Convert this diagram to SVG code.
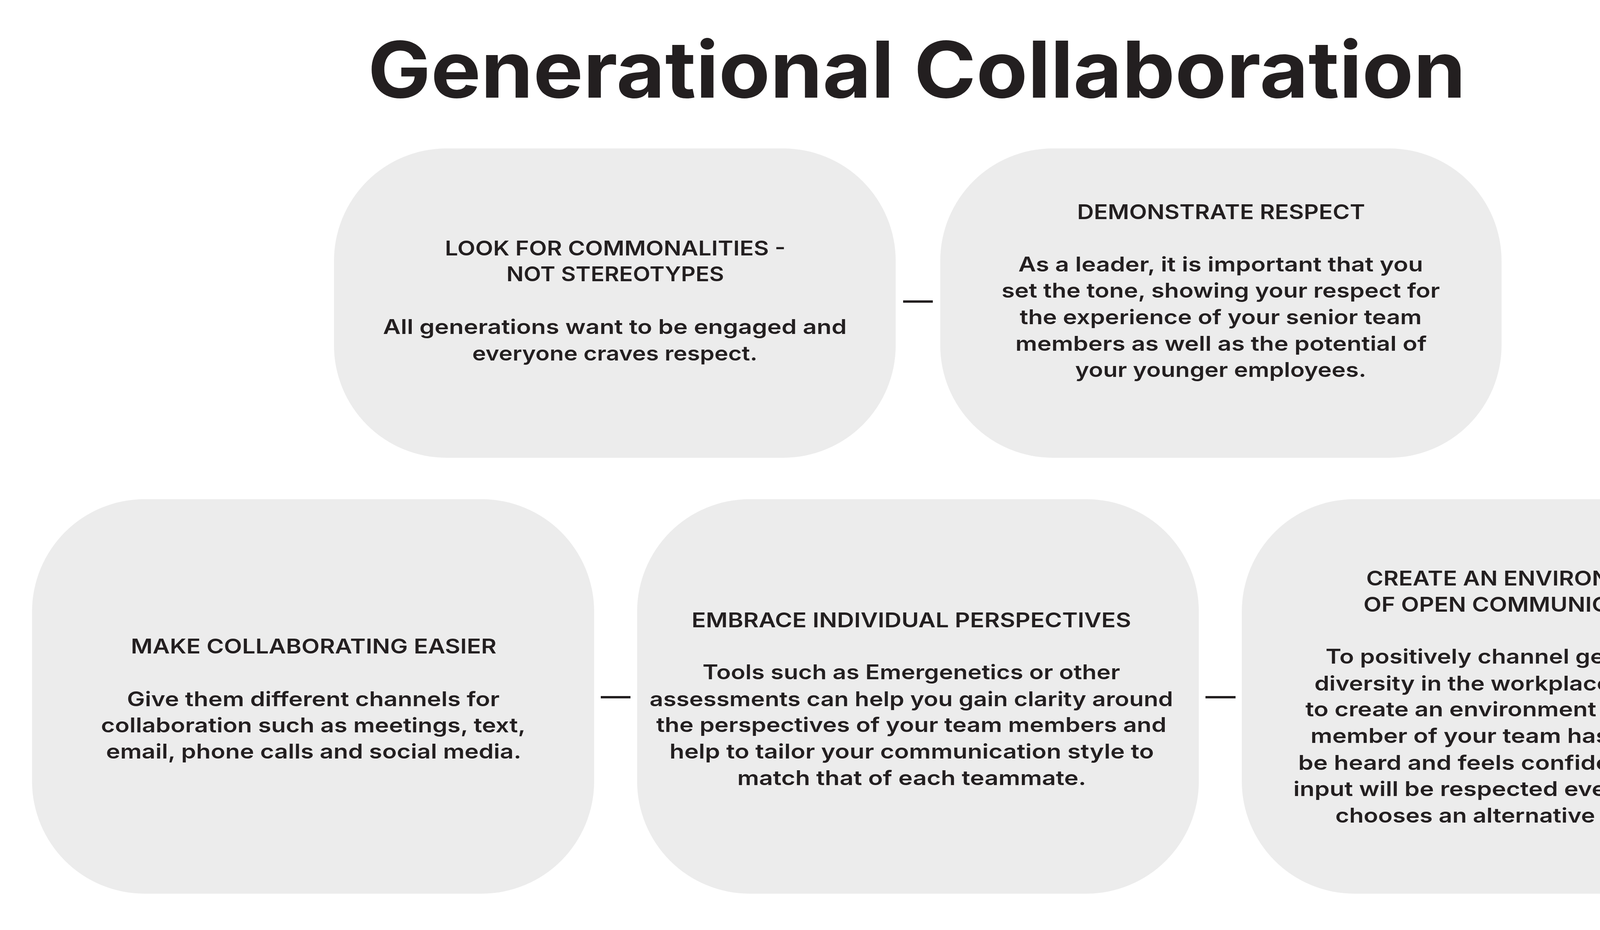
<svg xmlns="http://www.w3.org/2000/svg" width="4700" height="2381" viewBox="0 0 4700 2381">
<style>
.bg{fill:#ffffff}
.box{fill:#ececec}
.t{font-family:Inter,"Liberation Sans","DejaVu Sans",sans-serif;font-size:52px;font-weight:600;fill:#231f20;text-anchor:middle}
.title{font-family:Inter,"Liberation Sans","DejaVu Sans",sans-serif;font-size:200px;font-weight:700;fill:#231f20;text-anchor:middle}
.conn{stroke:#231f20;stroke-width:6;fill:none}
</style>
<rect class="bg" x="0" y="0" width="4700" height="2381"/>
<g id="title">
<text class="title" x="2347" y="250" textLength="2811" lengthAdjust="spacingAndGlyphs">Generational Collaboration</text>
</g>
<g id="connectors">
<line class="conn" x1="2312" y1="772" x2="2388" y2="772"/>
<line class="conn" x1="1538" y1="1785" x2="1614" y2="1785"/>
<line class="conn" x1="3086" y1="1785" x2="3163" y2="1785"/>
</g>
<g id="node-commonalities">
<rect class="box" x="855" y="380" width="1438" height="792" rx="288" ry="288"/>
<text class="t" x="1575" y="654" textLength="872" lengthAdjust="spacingAndGlyphs">LOOK FOR COMMONALITIES -</text>
<text class="t" x="1575" y="720" textLength="557" lengthAdjust="spacingAndGlyphs">NOT STEREOTYPES</text>
<text class="t" x="1574" y="855" textLength="1187" lengthAdjust="spacingAndGlyphs">All generations want to be engaged and</text>
<text class="t" x="1574" y="923" textLength="730" lengthAdjust="spacingAndGlyphs">everyone craves respect.</text>
</g>
<g id="node-respect">
<rect class="box" x="2407" y="380" width="1437" height="792" rx="288" ry="288"/>
<text class="t" x="3126" y="561" textLength="737" lengthAdjust="spacingAndGlyphs">DEMONSTRATE RESPECT</text>
<text class="t" x="3125" y="695" textLength="1036" lengthAdjust="spacingAndGlyphs">As a leader, it is important that you</text>
<text class="t" x="3125" y="762" textLength="1122" lengthAdjust="spacingAndGlyphs">set the tone, showing your respect for</text>
<text class="t" x="3125" y="830" textLength="1029" lengthAdjust="spacingAndGlyphs">the experience of your senior team</text>
<text class="t" x="3126" y="898" textLength="1053" lengthAdjust="spacingAndGlyphs">members as well as the potential of</text>
<text class="t" x="3125" y="965" textLength="745" lengthAdjust="spacingAndGlyphs">your younger employees.</text>
</g>
<g id="node-collaborating">
<rect class="box" x="82" y="1278" width="1439" height="1010" rx="288" ry="288"/>
<text class="t" x="803" y="1673" textLength="936" lengthAdjust="spacingAndGlyphs">MAKE COLLABORATING EASIER</text>
<text class="t" x="802" y="1808" textLength="954" lengthAdjust="spacingAndGlyphs">Give them different channels for</text>
<text class="t" x="802" y="1875" textLength="1087" lengthAdjust="spacingAndGlyphs">collaboration such as meetings, text,</text>
<text class="t" x="803" y="1942" textLength="1063" lengthAdjust="spacingAndGlyphs">email, phone calls and social media.</text>
</g>
<g id="node-perspectives">
<rect class="box" x="1631" y="1278" width="1438" height="1010" rx="288" ry="288"/>
<text class="t" x="2333" y="1606" textLength="1125" lengthAdjust="spacingAndGlyphs">EMBRACE INDIVIDUAL PERSPECTIVES</text>
<text class="t" x="2333" y="1739" textLength="1069" lengthAdjust="spacingAndGlyphs">Tools such as Emergenetics or other</text>
<text class="t" x="2333" y="1808" textLength="1340" lengthAdjust="spacingAndGlyphs">assessments can help you gain clarity around</text>
<text class="t" x="2333" y="1874" textLength="1306" lengthAdjust="spacingAndGlyphs">the perspectives of your team members and</text>
<text class="t" x="2334" y="1942" textLength="1240" lengthAdjust="spacingAndGlyphs">help to tailor your communication style to</text>
<text class="t" x="2334" y="2010" textLength="893" lengthAdjust="spacingAndGlyphs">match that of each teammate.</text>
</g>
<g id="node-communication">
<rect class="box" x="3179" y="1278" width="1438" height="1010" rx="288" ry="288"/>
<text class="t" x="3897" y="1499" textLength="799" lengthAdjust="spacingAndGlyphs">CREATE AN ENVIRONMENT</text>
<text class="t" x="3897" y="1566" textLength="813" lengthAdjust="spacingAndGlyphs">OF OPEN COMMUNICATION</text>
<text class="t" x="3898" y="1699" textLength="1009" lengthAdjust="spacingAndGlyphs">To positively channel generational</text>
<text class="t" x="3897" y="1768" textLength="1064" lengthAdjust="spacingAndGlyphs">diversity in the workplace, you need</text>
<text class="t" x="3896" y="1834" textLength="1108" lengthAdjust="spacingAndGlyphs">to create an environment where each</text>
<text class="t" x="3897" y="1902" textLength="1084" lengthAdjust="spacingAndGlyphs">member of your team has a forum to</text>
<text class="t" x="3896" y="1971" textLength="1145" lengthAdjust="spacingAndGlyphs">be heard and feels confident that their</text>
<text class="t" x="3897" y="2038" textLength="1172" lengthAdjust="spacingAndGlyphs">input will be respected even if the team</text>
<text class="t" x="3898" y="2106" textLength="959" lengthAdjust="spacingAndGlyphs">chooses an alternative direction.</text>
</g>
</svg>
